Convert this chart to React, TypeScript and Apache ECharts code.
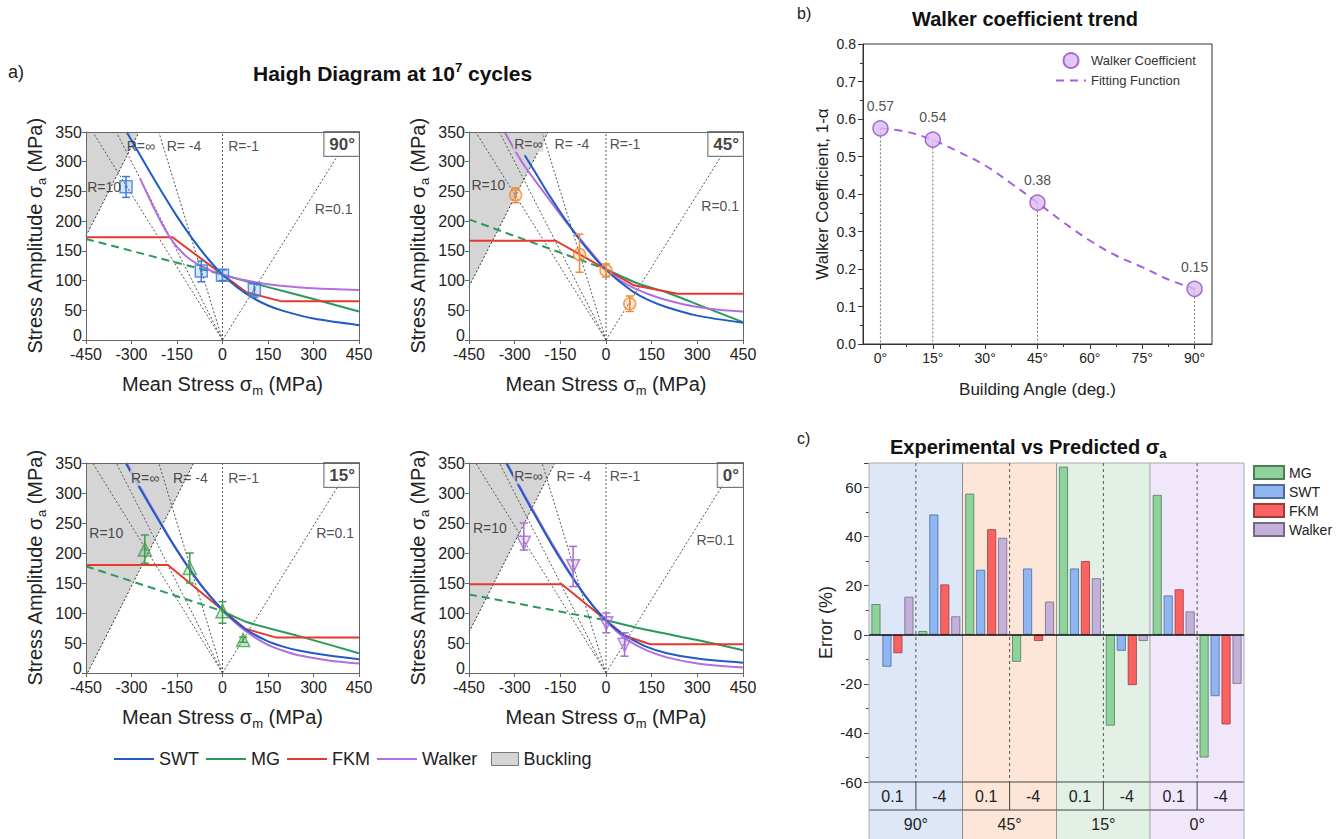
import React, { useEffect, useRef } from 'react';
import * as echarts from 'echarts';

const FONT = "'Liberation Sans', Arial, Helvetica, sans-serif";
const TXT = '#222';
type P = [number, number];

// ---------------- Panel a) Haigh diagrams (σm, σa in MPa) ----------------
const panelAngles = ['90°', '45°', '15°', '0°'];

// load-ratio rays from the origin
const rayR10: P[] = [[0, 0], [-428, 350]];
const rayRinf: P[] = [[0, 0], [-350, 350]];
const rayRm4: P[] = [[0, 0], [-210, 350]];
const rayRm1: P[] = [[0, 0], [0, 350]];
const rayR01: P[] = [[0, 0], [428, 350]];

// 90°
const buck90: P[] = [[-450, 175], [-275, 350]];
const swt90: P[] = [[-316, 350], [-250, 292], [-200, 249], [-150, 208], [-100, 171], [-50, 138], [0, 110], [50, 88], [100, 71], [150, 58], [200, 49], [300, 36], [450, 25]];
const walker90: P[] = [[-272, 272], [-250, 248], [-225, 221], [-200, 196], [-180, 178], [-160, 163], [-140, 151], [-118, 140], [-90, 130], [-60, 122], [-30, 115], [0, 110], [50, 103], [100, 98], [150, 94], [200, 91], [300, 87], [450, 84]];
const mgNeg90: P[] = [[-450, 170], [0, 110]];
const mgPos90: P[] = [[0, 110], [150, 89], [300, 69], [450, 48]];
const fkm90: P[] = [[-450, 173], [-165, 173], [0, 110], [80, 80], [195, 65], [450, 65]];
const exp90: P[] = [[-318, 258], [-70, 116], [0, 109], [105, 85]];
const err90: P[] = [[240, 275], [98, 133], [100, 118], [72, 95]];
const labels90: [string, number, number][] = [['R=∞', -316, 327], ['R= -4', -184, 327], ['R=-1', 19, 327], ['R=0.1', 304, 221], ['R=10', -446, 258]];

// 45°
const buck45: P[] = [[-450, 90], [-190, 350]];
const swt45: P[] = [[-267, 311], [-230, 280], [-196, 251], [-160, 223], [-130, 200], [-100, 178], [-65, 155], [-30, 134], [0, 118], [40, 100], [90, 81], [140, 67], [200, 55], [300, 41], [450, 29]];
const walker45: P[] = [[-333, 350], [-273, 297], [-196, 243], [-130, 198], [-65, 158], [0, 119], [45, 101], [89, 88], [140, 77], [187, 69], [240, 62], [297, 56], [370, 51], [450, 48]];
const mgNeg45: P[] = [[-450, 203], [0, 119]];
const mgPos45: P[] = [[0, 119], [100, 96], [200, 80], [300, 60], [450, 30]];
const fkm45: P[] = [[-450, 167], [-165, 167], [0, 119], [92, 92], [235, 78], [450, 78]];
const exp45: P[] = [[-297, 244], [-87, 144], [0, 117], [78, 61]];
const err45: P[] = [[231, 256], [114, 178], [106, 128], [48, 74]];
const labels45: [string, number, number][] = [['R=∞', -305, 330], ['R= -4', -169, 330], ['R=-1', 12, 330], ['R=0.1', 313, 225], ['R=10', -442, 261]];

// 15°
const buck15: P[] = [[-450, -5], [-95, 350]];
const swt15: P[] = [[-319, 350], [-278, 313], [-217, 260], [-151, 205], [-75, 149], [0, 105], [40, 87], [79, 72], [145, 54], [200, 44], [255, 37], [350, 29], [450, 23]];
const walker15: P[] = [[-316, 350], [-278, 316], [-217, 262], [-151, 206], [-75, 150], [0, 105], [40, 85], [79, 69], [145, 48], [200, 37], [255, 29], [350, 21], [450, 16]];
const mgNeg15: P[] = [[-450, 178], [0, 103]];
const mgPos15: P[] = [[0, 103], [79, 85], [255, 61], [450, 33]];
const fkm15: P[] = [[-450, 180], [-180, 180], [0, 105], [74, 74], [178, 59], [450, 59]];
const exp15: P[] = [[-256, 206], [-108, 175], [0, 103], [68, 55]];
const err15: P[] = [[183, 230], [150, 200], [83, 119], [51, 60]];
const labels15: [string, number, number][] = [['R=∞', -305, 325], ['R= -4', -163, 325], ['R=-1', 19, 325], ['R=0.1', 309, 234], ['R=10', -439, 234]];

// 0°
const buck0: P[] = [[-450, 68], [-168, 350]];
const swt0: P[] = [[-328, 350], [-289, 314], [-229, 259], [-163, 201], [-97, 149], [-40, 110], [0, 88], [30, 74], [67, 61], [132, 44], [200, 33], [300, 24], [450, 17]];
const walker0: P[] = [[-325, 350], [-289, 316], [-229, 262], [-163, 204], [-97, 150], [-40, 110], [0, 88], [30, 72], [67, 56], [132, 38], [200, 26], [300, 16], [450, 9]];
const mgNeg0: P[] = [[-450, 131], [0, 88]];
const mgPos0: P[] = [[0, 88], [132, 72], [300, 55], [450, 38]];
const fkm0: P[] = [[-450, 148], [-145, 148], [0, 88], [62, 62], [145, 48], [450, 48]];
const exp0: P[] = [[-270, 217], [-108, 178], [1, 83], [61, 47]];
const err0: P[] = [[205, 250], [144, 211], [67, 100], [28, 67]];
const labels0: [string, number, number][] = [['R=∞', -305, 328], ['R= -4', -163, 328], ['R=-1', 12, 328], ['R=0.1', 297, 222], ['R=10', -437, 242]];

// ---------------- Panel b) Walker coefficient ----------------
const wcAngles = [0, 15, 45, 90];
const wcValues = [0.575, 0.545, 0.377, 0.147];
const wcLabels = ['0.57', '0.54', '0.38', '0.15'];
const fitAngles = [0, 7.5, 15, 22.5, 30, 37.5, 45, 52.5, 60, 67.5, 75, 82.5, 90];
const fitValues = [0.575, 0.566, 0.544, 0.512, 0.476, 0.428, 0.377, 0.324, 0.276, 0.236, 0.205, 0.172, 0.147];
const angleTicks = [0, 15, 30, 45, 60, 75, 90];
const angleMinorTicks = [7.5, 22.5, 37.5, 52.5, 67.5, 82.5];

// ---------------- Panel c) Experimental vs predicted ----------------
const barGroups = ['90°', '45°', '15°', '0°'];
const barHalves = ['0.1', '-4'];
const barCats = ['90°|0.1', '90°|-4', '45°|0.1', '45°|-4', '15°|0.1', '15°|-4', '0°|0.1', '0°|-4'];
const errMG = [12.5, 1.5, 57.5, -11, 68.5, -37, 57, -50];
const errSWT = [-13, 49, 26.5, 27, 27, -6.5, 16, -25];
const errFKM = [-7.5, 20.5, 43, -2.5, 30, -20.5, 18.5, -36.5];
const errWalker = [15.5, 7.5, 39.5, 13.5, 23, -2.5, 9.5, -20];

// ---------------- styling ----------------
const BUCK_FILL = '#d5d5d5';
const C_SWT = '#1f5cc4';
const C_MG = '#2a9a5c';
const C_FKM = '#e5392e';
const C_WLK = '#b36ee0';
const GROUP_BG = ['#dde7f8', '#fde6d8', '#e2f0e6', '#f1e7fb'];

const HAIGH_GRIDS = [
  { left: 86, top: 132, width: 273, height: 208 },
  { left: 469, top: 132, width: 274, height: 208 },
  { left: 86, top: 463, width: 273, height: 210 },
  { left: 469, top: 463, width: 274, height: 210 },
];

const subRich = (size: number) => ({
  sub: { fontSize: size, fontFamily: FONT, color: TXT, padding: [14, 0, 0, 0] },
});

const panels = [
  { buck: buck90, swt: swt90, walker: walker90, mgNeg: mgNeg90, mgPos: mgPos90, fkm: fkm90, exp: exp90, err: err90, labels: labels90, marker: 'rect', rotate: 0, size: 12, color: '#3a7bd5', fill: 'rgba(58,123,213,0.25)', labelBg: false },
  { buck: buck45, swt: swt45, walker: walker45, mgNeg: mgNeg45, mgPos: mgPos45, fkm: fkm45, exp: exp45, err: err45, labels: labels45, marker: 'circle', rotate: 0, size: 12, color: '#f0892f', fill: 'rgba(240,137,47,0.25)', labelBg: true },
  { buck: buck15, swt: swt15, walker: walker15, mgNeg: mgNeg15, mgPos: mgPos15, fkm: fkm15, exp: exp15, err: err15, labels: labels15, marker: 'triangle', rotate: 0, size: 13, color: '#3ea14b', fill: 'rgba(62,161,75,0.25)', labelBg: true },
  { buck: buck0, swt: swt0, walker: walker0, mgNeg: mgNeg0, mgPos: mgPos0, fkm: fkm0, exp: exp0, err: err0, labels: labels0, marker: 'triangle', rotate: 180, size: 13, color: '#a46cd0', fill: 'rgba(164,108,208,0.25)', labelBg: true },
];

const errRender = (color: string) => (_params: any, api: any) => {
  const x = api.value(0);
  const a = api.coord([x, api.value(1)]);
  const b = api.coord([x, api.value(2)]);
  const w = 4;
  const st = { stroke: color, lineWidth: 1.5 };
  return {
    type: 'group',
    children: [
      { type: 'line', shape: { x1: a[0], y1: a[1], x2: b[0], y2: b[1] }, style: st },
      { type: 'line', shape: { x1: a[0] - w, y1: a[1], x2: a[0] + w, y2: a[1] }, style: st },
      { type: 'line', shape: { x1: b[0] - w, y1: b[1], x2: b[0] + w, y2: b[1] }, style: st },
    ],
  };
};

function buildOption() {
  const grid: any[] = [];
  const xAxis: any[] = [];
  const yAxis: any[] = [];
  const series: any[] = [];

  panels.forEach((d, k) => {
    grid.push({ ...HAIGH_GRIDS[k], containLabel: false });
    const lineCol = '#666';
    xAxis.push({
      type: 'value', gridIndex: k, min: -450, max: 450, interval: 150, z: 10,
      axisLine: { show: true, onZero: false, lineStyle: { color: lineCol } },
      axisTick: { show: true, length: 4, lineStyle: { color: lineCol } },
      axisLabel: { fontSize: 16, color: TXT, fontFamily: FONT, margin: 6 },
      splitLine: { show: false },
      name: 'Mean Stress σ{sub|m} (MPa)', nameLocation: 'middle', nameGap: 30,
      nameTextStyle: { fontSize: 20, color: TXT, fontFamily: FONT, rich: subRich(13) },
    });
    xAxis.push({
      type: 'value', gridIndex: k, min: -450, max: 450, position: 'top', z: 10,
      axisLine: { show: true, onZero: false, lineStyle: { color: lineCol } },
      axisTick: { show: false }, axisLabel: { show: false }, splitLine: { show: false },
    });
    yAxis.push({
      type: 'value', gridIndex: k, min: 0, max: 350, interval: 50, z: 10,
      axisLine: { show: true, onZero: false, lineStyle: { color: lineCol } },
      axisTick: { show: true, length: 4, lineStyle: { color: lineCol } },
      axisLabel: {
        fontSize: 16, color: TXT, fontFamily: FONT, margin: 4,
        formatter: (v: number) => (v === 0 ? '{z|0}' : String(v)),
        rich: { z: { fontSize: 16, color: TXT, fontFamily: FONT, padding: [0, 0, 9, 0] } },
      },
      splitLine: { show: false },
      name: 'Stress Amplitude σ{sub|a} (MPa)', nameLocation: 'middle', nameGap: 38,
      nameTextStyle: { fontSize: 20, color: TXT, fontFamily: FONT, rich: subRich(13) },
    });
    yAxis.push({
      type: 'value', gridIndex: k, min: 0, max: 350, position: 'right', z: 10,
      axisLine: { show: true, onZero: false, lineStyle: { color: lineCol } },
      axisTick: { show: false }, axisLabel: { show: false }, splitLine: { show: false },
    });

    const base = { xAxisIndex: 2 * k, yAxisIndex: 2 * k };
    series.push({
      ...base, type: 'line', name: 'Buckling', data: d.buck, symbol: 'none', z: 1, silent: true,
      lineStyle: { color: '#333', width: 1, type: [2, 2] },
      itemStyle: { color: BUCK_FILL },
      areaStyle: { color: BUCK_FILL, opacity: 1, origin: 'end' },
    });
    [rayR10, rayRinf, rayRm4, rayRm1, rayR01].forEach((ray) => {
      series.push({
        ...base, type: 'line', data: ray, symbol: 'none', z: 2, silent: true,
        lineStyle: { color: '#555', width: 1, type: [2, 2] },
      });
    });
    series.push({ ...base, type: 'line', name: 'MG', data: d.mgPos, symbol: 'none', z: 3, smooth: 0.2, lineStyle: { color: C_MG, width: 2 }, itemStyle: { color: C_MG } });
    series.push({ ...base, type: 'line', name: 'MG', data: d.mgNeg, symbol: 'none', z: 3, lineStyle: { color: C_MG, width: 2, type: [8, 5] }, itemStyle: { color: C_MG } });
    series.push({ ...base, type: 'line', name: 'FKM', data: d.fkm, symbol: 'none', z: 3, lineStyle: { color: C_FKM, width: 2 }, itemStyle: { color: C_FKM } });
    series.push({ ...base, type: 'line', name: 'Walker', data: d.walker, symbol: 'none', z: 3, smooth: 0.3, lineStyle: { color: C_WLK, width: 2 }, itemStyle: { color: C_WLK } });
    series.push({ ...base, type: 'line', name: 'SWT', data: d.swt, symbol: 'none', z: 3, smooth: 0.3, lineStyle: { color: C_SWT, width: 2 }, itemStyle: { color: C_SWT } });
    series.push({
      ...base, type: 'custom', coordinateSystem: 'cartesian2d', z: 4, silent: true,
      data: d.exp.map((p, i) => [p[0], d.err[i][0], d.err[i][1]]),
      encode: { x: 0, y: [1, 2] },
      renderItem: errRender(d.color),
    });
    series.push({
      ...base, type: 'scatter', data: d.exp, symbol: d.marker, symbolRotate: d.rotate, symbolSize: d.size, z: 5,
      itemStyle: { color: d.fill, borderColor: d.color, borderWidth: 1.5 },
    });
    series.push({
      ...base, type: 'scatter', data: d.exp, symbol: 'circle', symbolSize: 3, z: 6, silent: true,
      itemStyle: { color: d.color },
    });
    const labelData: any[] = d.labels.map((l, i) => ({
      name: l[0], value: [l[1], l[2]],
      label: i === 0 && d.labelBg ? { backgroundColor: BUCK_FILL, padding: [1, 1] } : {},
    }));
    labelData.push({
      name: panelAngles[k], value: [450, 350],
      label: {
        align: 'right', verticalAlign: 'top', fontSize: 17, fontWeight: 'bold', color: '#111',
        backgroundColor: '#fff', borderColor: '#555', borderWidth: 1, padding: [4, 4, 3, 5],
      },
    });
    series.push({
      ...base, type: 'scatter', data: labelData, symbolSize: 0, z: 8, silent: true, clip: false,
      label: {
        show: true, position: [0, 0], align: 'left', verticalAlign: 'middle',
        formatter: '{b}', fontSize: 14, color: TXT, fontFamily: FONT,
      },
    });
  });

  // ---- Walker grid (index 4) ----
  grid.push({ left: 863, top: 44, width: 349, height: 300, show: true, borderColor: '#333', borderWidth: 1 });
  xAxis.push({
    type: 'value', gridIndex: 4, min: -5, max: 95,
    axisLine: { show: true, onZero: false, lineStyle: { color: '#333' } },
    axisTick: { show: true, customValues: angleTicks, length: 5, lineStyle: { color: '#333' } },
    axisLabel: { customValues: angleTicks, formatter: (v: number) => `${v}°`, fontSize: 14, color: TXT, fontFamily: FONT, margin: 7 },
    splitLine: { show: false },
    name: 'Building Angle (deg.)', nameLocation: 'middle', nameGap: 37,
    nameTextStyle: { fontSize: 17, color: TXT, fontFamily: FONT },
  });
  xAxis.push({
    type: 'value', gridIndex: 4, min: -5, max: 95, position: 'bottom',
    axisLine: { show: false }, axisLabel: { show: false }, splitLine: { show: false },
    axisTick: { show: true, customValues: angleMinorTicks, length: 3, lineStyle: { color: '#333' } },
  });
  yAxis.push({
    type: 'value', gridIndex: 4, min: 0, max: 0.8, interval: 0.1,
    axisLine: { show: true, onZero: false, lineStyle: { color: '#333' } },
    axisTick: { show: true, length: 5, lineStyle: { color: '#333' } },
    minorTick: { show: true, splitNumber: 2, length: 3, lineStyle: { color: '#333' } },
    axisLabel: { formatter: (v: number) => v.toFixed(1), fontSize: 14, color: TXT, fontFamily: FONT, margin: 7 },
    splitLine: { show: false },
    name: 'Walker Coefficient, 1-α', nameLocation: 'middle', nameGap: 32,
    nameTextStyle: { fontSize: 17, color: TXT, fontFamily: FONT },
  });
  const wBase = { xAxisIndex: 8, yAxisIndex: 8 };
  series.push({
    ...wBase, type: 'custom', coordinateSystem: 'cartesian2d', z: 1, silent: true,
    data: wcAngles.map((a, i) => [a, wcValues[i]]),
    encode: { x: 0, y: 1 },
    renderItem: (_p: any, api: any) => {
      const x = api.value(0);
      const a = api.coord([x, api.value(1)]);
      const b = api.coord([x, 0]);
      return { type: 'line', shape: { x1: a[0], y1: a[1], x2: b[0], y2: b[1] }, style: { stroke: '#777', lineWidth: 1, lineDash: [2, 2] } };
    },
  });
  series.push({
    ...wBase, type: 'line', name: 'Fitting Function', data: fitAngles.map((a, i) => [a, fitValues[i]]),
    symbol: 'none', smooth: 0.4, z: 3,
    lineStyle: { color: '#a65fdf', width: 2, type: [8, 6] }, itemStyle: { color: '#a65fdf' },
  });
  series.push({
    ...wBase, type: 'scatter', name: 'Walker Coefficient', data: wcAngles.map((a, i) => [a, wcValues[i]]),
    symbolSize: 15, z: 4,
    itemStyle: { color: '#dcbaf3', borderColor: '#8e4fc4', borderWidth: 1.5 },
    label: { show: true, position: 'top', distance: 7, formatter: (p: any) => wcLabels[p.dataIndex], fontSize: 14, color: TXT, fontFamily: FONT },
  });

  // ---- Bar grid (index 5) ----
  grid.push({ left: 869, top: 463, width: 375, height: 319 });
  xAxis.push({
    type: 'category', gridIndex: 5, data: barCats,
    axisLine: { show: false }, axisTick: { show: false }, axisLabel: { show: false }, splitLine: { show: false },
  });
  yAxis.push({
    type: 'value', gridIndex: 5, min: -60, max: 70, interval: 20,
    axisLine: { show: false },
    axisTick: { show: true, length: 5, lineStyle: { color: '#444' } },
    minorTick: { show: true, splitNumber: 2, length: 3, lineStyle: { color: '#444' } },
    axisLabel: { formatter: (v: number) => (v > 60 ? '' : String(v)), fontSize: 15, color: TXT, fontFamily: FONT, margin: 7 },
    splitLine: { show: false },
    name: 'Error (%)', nameLocation: 'middle', nameGap: 34,
    nameTextStyle: { fontSize: 18, color: TXT, fontFamily: FONT },
  });
  const bBase = { xAxisIndex: 10, yAxisIndex: 9 };
  series.push({
    ...bBase, type: 'custom', coordinateSystem: 'cartesian2d', z: 1, silent: true,
    data: barGroups.map((_g, i) => [i * 2, 0]),
    encode: { x: 0, y: 1 },
    renderItem: (params: any, api: any) => {
      const g = params.dataIndex;
      const band = api.size([1, 0])[0];
      const c0 = api.coord([2 * g, 0])[0];
      const c1 = api.coord([2 * g + 1, 0])[0];
      const left = c0 - band / 2;
      const right = c1 + band / 2;
      const mid = c0 + band / 2;
      const yTop = api.coord([0, 70])[1];
      const yBot = api.coord([0, -60])[1];
      const row1 = yBot + 28;
      const row2 = yBot + 57;
      const dark = '#444';
      const light = '#aaa';
      const ch: any[] = [
        { type: 'rect', shape: { x: left, y: yTop, width: right - left, height: row2 - yTop }, style: { fill: GROUP_BG[g] } },
        { type: 'line', shape: { x1: left, y1: yTop, x2: right, y2: yTop }, style: { stroke: light, lineWidth: 1 } },
        { type: 'line', shape: { x1: mid, y1: yTop, x2: mid, y2: yBot }, style: { stroke: '#555', lineWidth: 1, lineDash: [3, 3] } },
        { type: 'line', shape: { x1: mid, y1: yBot, x2: mid, y2: row1 }, style: { stroke: dark, lineWidth: 1 } },
        { type: 'line', shape: { x1: left, y1: yBot, x2: right, y2: yBot }, style: { stroke: dark, lineWidth: 1 } },
        { type: 'line', shape: { x1: left, y1: row1, x2: right, y2: row1 }, style: { stroke: dark, lineWidth: 1 } },
        { type: 'line', shape: { x1: right, y1: yTop, x2: right, y2: row2 }, style: { stroke: g < 3 ? dark : light, lineWidth: 1 } },
        { type: 'text', x: c0, y: (yBot + row1) / 2, style: { text: barHalves[0], fill: TXT, fontSize: 16, fontFamily: FONT, align: 'center', verticalAlign: 'middle' } },
        { type: 'text', x: c1, y: (yBot + row1) / 2, style: { text: barHalves[1], fill: TXT, fontSize: 16, fontFamily: FONT, align: 'center', verticalAlign: 'middle' } },
        { type: 'text', x: (left + right) / 2, y: (row1 + row2) / 2, style: { text: barGroups[g], fill: TXT, fontSize: 16, fontFamily: FONT, align: 'center', verticalAlign: 'middle' } },
      ];
      if (g === 0) ch.push({ type: 'line', shape: { x1: left, y1: yTop, x2: left, y2: row2 }, style: { stroke: light, lineWidth: 1 } });
      return { type: 'group', children: ch };
    },
  });
  const barDefs: [string, number[], string, string][] = [
    ['bar-MG', errMG, '#8fd29b', '#4f7d58'],
    ['bar-SWT', errSWT, '#8fb5f2', '#4d6c9c'],
    ['bar-FKM', errFKM, '#fb6363', '#9c3b3b'],
    ['bar-Walker', errWalker, '#c4b1da', '#77688a'],
  ];
  barDefs.forEach(([name, vals, fill, border], i) => {
    const s: any = {
      ...bBase, type: 'bar', name, data: vals, barWidth: 9, barGap: '22%', z: 3,
      itemStyle: { color: fill, borderColor: border, borderWidth: 0.8 },
    };
    if (i === 0) {
      s.markLine = {
        silent: true, symbol: ['none', 'none'], label: { show: false },
        lineStyle: { color: '#111', width: 1.5, type: 'solid' },
        data: [{ yAxis: 0 }],
      };
    }
    series.push(s);
  });

  const title = [
    { text: 'a)', left: 8, top: 63, padding: 0, textStyle: { fontSize: 18, fontWeight: 'normal', color: TXT, fontFamily: FONT } },
    {
      text: 'Haigh Diagram at 10{sup|7} cycles', left: 253, top: 61, padding: 0,
      textStyle: { fontSize: 21, fontWeight: 'bold', color: '#111', fontFamily: FONT, rich: { sup: { fontSize: 13, fontWeight: 'bold', fontFamily: FONT, color: '#111', padding: [0, 0, 12, 0] } } },
    },
    { text: 'b)', left: 797, top: 5, padding: 0, textStyle: { fontSize: 16, fontWeight: 'normal', color: TXT, fontFamily: FONT } },
    { text: 'Walker coefficient trend', left: 912, top: 9, padding: 0, textStyle: { fontSize: 20, fontWeight: 'bold', color: '#111', fontFamily: FONT } },
    { text: 'c)', left: 797, top: 430, padding: 0, textStyle: { fontSize: 16, fontWeight: 'normal', color: TXT, fontFamily: FONT } },
    {
      text: 'Experimental vs Predicted σ{sub|a}', left: 890, top: 433, padding: 0,
      textStyle: { fontSize: 20, fontWeight: 'bold', color: '#111', fontFamily: FONT, rich: { sub: { fontSize: 13, fontWeight: 'bold', fontFamily: FONT, color: '#111', padding: [14, 0, 0, 0] } } },
    },
  ];

  const hiddenSymbol = { opacity: 0, borderWidth: 0 };
  const legend = [
    {
      data: ['SWT', 'MG', 'FKM', 'Walker'],
      left: 113, top: 750, itemWidth: 40, itemHeight: 14, itemGap: 6,
      itemStyle: hiddenSymbol,
      selectedMode: false, padding: 0, textStyle: { fontSize: 18, color: TXT, fontFamily: FONT },
    },
    {
      data: [{ name: 'Buckling', icon: 'rect', itemStyle: { color: BUCK_FILL, borderColor: '#777', borderWidth: 1, borderType: 'solid', opacity: 1 } }],
      left: 491, top: 750, itemWidth: 27, itemHeight: 13, selectedMode: false, padding: 0,
      textStyle: { fontSize: 18, color: TXT, fontFamily: FONT },
    },
    {
      data: [{ name: 'Walker Coefficient' }, { name: 'Fitting Function', itemStyle: hiddenSymbol }], orient: 'vertical', left: 1055, top: 52,
      itemWidth: 30, itemHeight: 15, itemGap: 5, selectedMode: false, padding: 0,
      textStyle: { fontSize: 13, color: '#333', fontFamily: FONT },
    },
    {
      data: ['bar-MG', 'bar-SWT', 'bar-FKM', 'bar-Walker'], orient: 'vertical', left: 1253, top: 465,
      itemWidth: 30, itemHeight: 13, itemGap: 4, icon: 'rect', selectedMode: false, padding: 0,
      formatter: (n: string) => n.replace('bar-', ''),
      textStyle: { fontSize: 14, color: TXT, fontFamily: FONT },
    },
  ];

  return {
    animation: false,
    backgroundColor: '#ffffff',
    textStyle: { fontFamily: FONT },
    title, legend, grid, xAxis, yAxis, series,
  };
}

export default function App() {
  const ref = useRef<HTMLDivElement>(null);
  useEffect(() => {
    if (!ref.current) return;
    const chart = echarts.init(ref.current, null, { renderer: 'svg' });
    chart.setOption(buildOption() as any);
    return () => chart.dispose();
  }, []);
  return <div ref={ref} style={{ position: 'absolute', left: 0, top: 0, width: 1341, height: 839 }} />;
}
